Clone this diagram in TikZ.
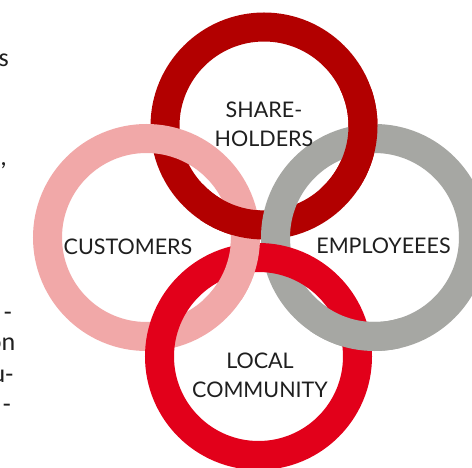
\documentclass[tikz,border=0pt]{standalone}
\usepackage{fontspec}
\setmainfont{Lato}
\newfontfamily\fragfont{Carlito}
\definecolor{ringT}{RGB}{178,0,0}
\definecolor{ringB}{RGB}{226,0,26}
\definecolor{ringL}{RGB}{241,168,168}
\definecolor{ringR}{RGB}{166,167,163}
\begin{document}
\begin{tikzpicture}[x=1pt,y=-1pt,
  ring/.style={line width=29pt},
  lbl/.style={inner sep=0pt, align=center, font=\fontsize{21.5}{29}\selectfont, text=black!88},
  frag/.style={inner sep=0pt, font=\fragfont\fontsize{26}{31}\selectfont, text=black!88}]
\useasboundingbox (0,0) rectangle (472,468);
\fill[white] (0,0) rectangle (472,468);
\coordinate (cT) at (264,126);
\coordinate (cL) at (146.5,237.5);
\coordinate (cR) at (374.5,237.5);
\coordinate (cB) at (258.5,356.5);
% base rings
\draw[ring, ringT] (cT) circle[radius=99];
\draw[ring, ringL] (cL) circle[radius=99];
\draw[ring, ringR] (cR) circle[radius=99];
\draw[ring, ringB] (cB) circle[radius=99];
% interlocking fixes
\begin{scope}
  \clip (200,185) rectangle (260,241);
  \draw[ring, ringT] (cT) circle[radius=99];
\end{scope}
\begin{scope}
  \clip (320,90) rectangle (400,190);
  \draw[ring, ringT] (cT) circle[radius=99];
\end{scope}
\begin{scope}
  \clip (200,241) rectangle (260,300);
  \draw[ring, ringL] (cL) circle[radius=99];
\end{scope}
\begin{scope}
  \clip (310,290) rectangle (400,380);
  \draw[ring, ringR] (cR) circle[radius=99];
\end{scope}
% labels
\node[lbl] (share) at (264,124.5) {SHARE-\\HOLDERS};
\node[lbl] (cust) at (128,246.5) {CUSTOMERS};
\node[lbl] (empl) at (383.5,246) {EMPLOYEEES};
\node[lbl] (local) at (260,375.5) {LOCAL\\COMMUNITY};
% cut-off text at the left edge
\node[frag, anchor=base east] (f1) at (9,67) {s};
\node[frag, anchor=base east] (f2) at (7,166) {,};
\node[frag, anchor=base east] (f3) at (12,320) {-};
\node[frag, anchor=base east] (f4) at (15.5,351) {on};
\node[frag, anchor=base east] (f5) at (13.5,382) {u-};
\node[frag, anchor=base east] (f6) at (11,413) {-};
\end{tikzpicture}
\end{document}
